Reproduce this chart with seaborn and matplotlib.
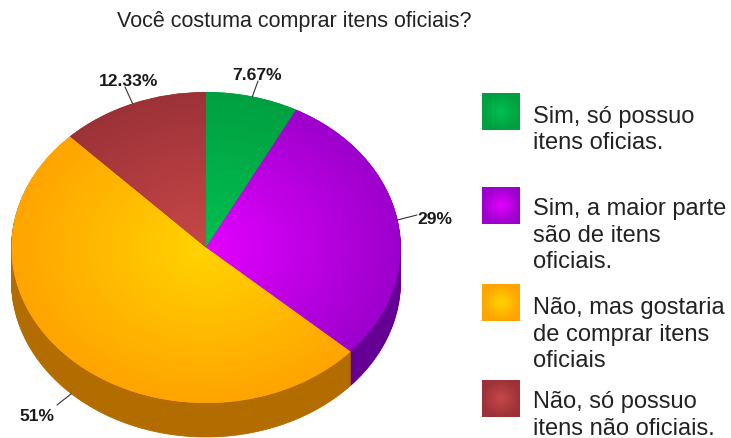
import numpy as np
import matplotlib
matplotlib.use("Agg")
import matplotlib.pyplot as plt
import seaborn as sns

title = "Você costuma comprar itens oficiais?"
categories = [
    "Sim, só possuo\nitens oficias.",
    "Sim, a maior parte\nsão de itens\noficiais.",
    "Não, mas gostaria\nde comprar itens\noficiais",
    "Não, só possuo\nitens não oficiais.",
]
shares = [7.67, 29, 51, 12.33]
centre_colours = ["#00c050", "#e400ff", "#ffd400", "#c84848"]
rim_colours = ["#00a040", "#9c00cc", "#ffa400", "#9c3238"]
wall_colours = ["#006e2c", "#660094", "#b26c00", "#702428"]

W, H = 731, 439
CX, CY = 206, 248.5
RX, RY = 194.5, 155.5
DEPTH = 34

sns.set_theme(style="white")
plt.rcParams["font.family"] = ["Liberation Sans", "DejaVu Sans"]

fig = plt.figure(figsize=(W / 100, H / 100), dpi=100)
ax = fig.add_axes([0, 0, 1, 1])
overlay = fig.add_axes([0, 0, 1, 1], facecolor="none")
overlay.set_xlim(0, W)
overlay.set_ylim(H, 0)
overlay.axis("off")


def radial_image(inner, outer, n=300):
    """RGB array fading from one colour at the middle to another at the rim."""
    u = np.linspace(-1, 1, n)
    xx, yy = np.meshgrid(u, u)
    r = np.clip(np.hypot(xx, yy), 0, 1)[..., None]
    a = np.array(matplotlib.colors.to_rgb(inner))
    b = np.array(matplotlib.colors.to_rgb(outer))
    return a * (1 - r) + b * r


# Extruded side of the disc: the same pie stacked downward, one pixel per layer
for step in range(DEPTH, 0, -1):
    wedges, _ = ax.pie(shares, colors=wall_colours, startangle=90, counterclock=False,
                       center=(0, -step / RY), radius=1)
    for wedge, colour in zip(wedges, wall_colours):
        wedge.set_edgecolor(colour)
        wedge.set_linewidth(0.6)

# Top face, each wedge filled with its own radial gradient
top, _ = ax.pie(shares, colors=rim_colours, startangle=90, counterclock=False,
                radius=1, wedgeprops={"linewidth": 0})
for wedge, inner, outer in zip(top, centre_colours, rim_colours):
    wedge.set_zorder(2)
    img = ax.imshow(radial_image(inner, outer), extent=(-1, 1, -1, 1), aspect="auto",
                    interpolation="bilinear", zorder=3)
    img.set_clip_path(wedge)

ax.set_aspect("auto")
ax.set_xlim(-CX / RX, (W - CX) / RX)
ax.set_ylim(-(H - CY) / RY, CY / RY)
ax.axis("off")

# Value labels with short leader lines from the wedge's mid-angle
label_tips = [(258, 82), (417, 216), (57, 406), (125, 88)]
label_pos = [(257, 75), (435, 220), (37, 417), (129, 81)]
mids = 2 * np.pi * (np.cumsum(shares) - np.array(shares) / 2) / sum(shares)
for share, mid, tip, pos in zip(shares, mids, label_tips, label_pos):
    x0 = CX + RX * np.sin(mid)
    y0 = CY - RY * np.cos(mid)
    if np.cos(mid) < 0:
        y0 += DEPTH  # leaders on the lower half start from the side wall
    overlay.plot([x0, tip[0]], [y0, tip[1]], color="#333333", lw=0.8)
    overlay.text(pos[0], pos[1], f"{share:g}%", ha="center", va="center",
                 fontsize=12.6, fontweight="bold", color="#1a1a1a")

overlay.text(117, 21, title, ha="left", va="center", fontsize=15.5, color="#222222")

# Legend: gradient swatch plus wrapped caption
swatch_tops = [94, 188, 285, 381]
caption_tops = [117, 209.5, 308.5, 402.5]
for cat, inner, outer, sy, ty in zip(categories, centre_colours, rim_colours,
                                     swatch_tops, caption_tops):
    overlay.imshow(radial_image(inner, outer, 60), extent=(482, 520, sy + 37, sy),
                   aspect="auto", interpolation="bilinear")
    for i, line in enumerate(cat.split("\n")):
        overlay.text(533, ty + i * 26.5, line, ha="left", va="center",
                     fontsize=17, color="#222222")
overlay.set_xlim(0, W)
overlay.set_ylim(H, 0)

fig.savefig("out.png", dpi=100, facecolor="white")
